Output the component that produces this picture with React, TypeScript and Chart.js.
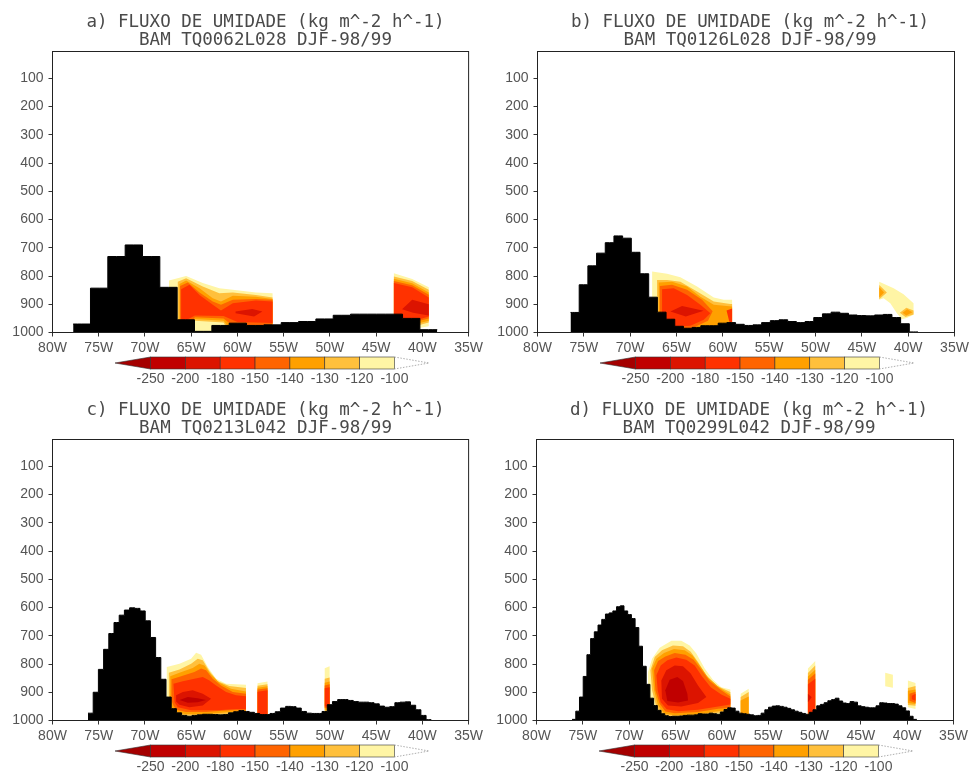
import React, { useEffect, useRef } from 'react';
import { Chart, registerables } from 'chart.js';

Chart.register(...registerables);

// ---------- axes / legend ----------
const X_TICKS = [-80, -75, -70, -65, -60, -55, -50, -45, -40, -35];
const Y_TICKS = [100, 200, 300, 400, 500, 600, 700, 800, 900, 1000];
const LEVELS = [-250, -200, -180, -150, -140, -130, -120, -100];
const BOX_COLORS = ['#c00000', '#dc1400', '#ff3200', '#ff6400', '#ffa000', '#ffc03c', '#fff5a5'];
const BELOW_COLOR = '#a50000';

const TITLE_1 = 'FLUXO DE UMIDADE (kg m^-2 h^-1)';
const EXPS = ['BAM TQ0062L028 DJF-98/99', 'BAM TQ0126L028 DJF-98/99', 'BAM TQ0213L042 DJF-98/99', 'BAM TQ0299L042 DJF-98/99'];

// ---------- terrain (surface pressure, hPa) ----------
const TERRAIN_A_LON0 = -76.83, TERRAIN_A_DLON = 1.875;
const TERRAIN_A = [970, 843, 731, 690, 731, 840, 955, 996, 975, 967, 975, 973, 965, 961, 952, 939, 935, 935, 935, 950, 990];

const TERRAIN_B_LON0 = -75.97, TERRAIN_B_DLON = 0.9375;
const TERRAIN_B = [929, 831, 764, 719, 682, 658, 666, 716, 792, 875, 928, 953, 978, 985, 982, 976, 976, 967, 965, 971,
  975, 973, 965, 958, 955, 961, 965, 961, 947, 934, 928, 932, 938, 940, 941, 938, 936, 947, 969, 998];

const TERRAIN_C_LON0 = -75.88, TERRAIN_C_DLON = 0.5625;
const TERRAIN_C = [974, 900, 819, 748, 692, 653, 627, 609, 601, 603, 612, 647, 706, 777, 854, 917, 958, 973, 982, 985,
  982, 980, 978, 978, 979, 980, 979, 973, 969, 965, 968, 971, 975, 979, 979, 975, 969, 956, 950, 951,
  956, 968, 974, 975, 975, 968, 944, 933, 926, 926, 929, 933, 935, 935, 937, 941, 949, 953, 951, 937,
  935, 934, 946, 962, 982, 997];

const TERRAIN_D_LON0 = -75.96, TERRAIN_D_DLON = 0.4;
const TERRAIN_D = [996, 967, 917, 844, 767, 710, 686, 662, 642, 623, 619, 612, 597, 594, 612, 625, 639, 671, 737, 808,
  872, 921, 947, 964, 976, 983, 986, 985, 985, 984, 982, 981, 981, 980, 976, 977, 977, 974, 976, 978,
  970, 961, 955, 956, 967, 974, 976, 978, 980, 983, 982, 974, 962, 953, 949, 948, 950, 953, 957, 962,
  967, 971, 975, 978, 971, 962, 948, 943, 937, 930, 926, 921, 931, 938, 940, 933, 935, 948, 951, 953,
  955, 955, 948, 937, 938, 940, 940, 942, 948, 955, 966, 985, 996];

// ---------- shaded contour regions [lon, hPa] ----------
// panel a
const A1_Y = [[-67.4, 816], [-65.55, 800], [-63.75, 825], [-61.96, 843], [-60.5, 849], [-58, 858], [-56.2, 861], [-56.2, 1000], [-67.4, 1000]];
const A1_LO = [[-66.45, 820], [-65.55, 808], [-63.75, 837], [-61.96, 861], [-60.5, 858], [-58, 867], [-56.2, 876], [-56.2, 1000], [-60.9, 1000], [-61.5, 965], [-64.6, 958], [-65.5, 1000], [-66.45, 1000]];
const A1_O = [[-66.27, 828], [-65.55, 816], [-64.1, 843], [-62.67, 879], [-61.78, 890], [-60.5, 870], [-58, 873], [-56.2, 881], [-56.2, 1000], [-60.5, 1000], [-61.5, 958], [-64.6, 952], [-65.5, 1000], [-66.27, 1000]];
const A1_DO = [[-66.2, 835], [-65.37, 823], [-64.1, 858], [-62.67, 890], [-61.78, 902], [-60.5, 884], [-58, 881], [-56.2, 884], [-56.2, 1000], [-60, 990], [-61.5, 950], [-64.6, 946], [-65.5, 1000], [-66.2, 1000]];
const A1_R = [[-66.09, 847], [-65.19, 831], [-64.1, 867], [-62.67, 902], [-61.78, 922], [-60.5, 896], [-58, 887], [-56.2, 890], [-56.2, 966], [-60, 963], [-61.5, 942], [-64.6, 940], [-65.5, 956], [-66.09, 958]];
const A1_DR = [[-60.2, 926], [-58.4, 917], [-57.3, 926], [-58.2, 943], [-60.2, 932]];
const A2_Y = [[-43.08, 790], [-41.1, 811], [-39.31, 840], [-39.31, 978], [-40.5, 985], [-43.08, 1000]];
const A2_LO = [[-43.08, 802], [-41.1, 818], [-39.31, 849], [-39.31, 965], [-40.5, 975], [-43.08, 1000]];
const A2_O = [[-43.08, 810], [-41.1, 826], [-39.31, 858], [-39.31, 958], [-40.5, 968], [-43.08, 1000]];
const A2_DO = [[-43.08, 818], [-41.1, 833], [-39.31, 866], [-39.31, 950], [-40.5, 960], [-43.08, 1000]];
const A2_R = [[-43.08, 825], [-41.1, 840], [-39.31, 876], [-39.31, 943], [-40.5, 955], [-43.08, 1000]];
const A2_DR = [[-42.2, 918], [-41.1, 884], [-39.31, 900], [-39.31, 940], [-41, 930]];

// panel b
const B1_Y = [[-67.63, 784], [-66.02, 792], [-64.58, 804], [-62.78, 837], [-60.98, 876], [-59.9, 884], [-59.0, 884], [-59.0, 1000], [-67.63, 1000]];
const B1_LO = [[-67.1, 814], [-66.02, 814], [-64.58, 820], [-62.78, 855], [-60.98, 890], [-59.2, 899], [-59.0, 899], [-59.0, 1000], [-67.1, 1000]];
const B1_O = [[-66.92, 823], [-65.48, 820], [-63.86, 837], [-62.42, 873], [-60.98, 902], [-59.0, 908], [-59.0, 1000], [-66.92, 1000]];
const B1_DO = [[-66.8, 835], [-65.48, 831], [-63.86, 849], [-62.24, 884], [-61.1, 925], [-61.6, 958], [-63.5, 988], [-65.5, 988], [-66.8, 975]];
const B1_R = [[-66.56, 847], [-65.3, 843], [-63.86, 867], [-62.42, 902], [-61.34, 932], [-62.06, 955], [-63.5, 976], [-64.94, 979], [-66.2, 973], [-66.56, 943]];
const B1_R2 = [[-59.6, 922], [-59.0, 915], [-59.0, 965], [-59.3, 962]];
const B1_DR = [[-65.66, 926], [-64.4, 906], [-62.07, 923], [-64.0, 943]];
const B2_Y = [[-43.12, 820], [-41.57, 843], [-40.5, 865], [-39.42, 896], [-39.42, 937], [-40.14, 949], [-40.68, 953], [-41.22, 932], [-41.93, 896], [-42.65, 879], [-43.12, 884]];
const B2_LO1 = [[-43.12, 832], [-42.3, 858], [-43.12, 882]];
const B2_O1 = [[-43.12, 840], [-42.6, 858], [-43.12, 876]];
const B2_LO2 = [[-40.9, 930], [-40.2, 912], [-39.42, 922], [-39.42, 936], [-40.3, 945]];
const B2_O2 = [[-40.6, 930], [-40.1, 918], [-39.55, 928], [-40.2, 940]];

// panel c
const C1_Y = [[-67.64, 811], [-66.27, 799], [-65.01, 781], [-64.47, 760], [-63.93, 767], [-63.21, 811], [-62.31, 852], [-61.23, 870], [-59.08, 873], [-59.08, 1000], [-67.64, 1000]];
const C1_LO = [[-67.42, 831], [-66.27, 819], [-65.01, 799], [-64.3, 781], [-63.75, 787], [-63.03, 826], [-62.13, 861], [-60.87, 878], [-59.08, 885], [-59.08, 976], [-60.87, 976], [-63.39, 982], [-65.55, 982], [-66.63, 976], [-67.17, 964], [-67.42, 940]];
const C1_O = [[-67.27, 843], [-66.27, 831], [-64.84, 814], [-64.12, 799], [-63.57, 805], [-62.85, 838], [-61.95, 866], [-60.69, 888], [-59.08, 897], [-59.08, 970], [-60.87, 970], [-63.39, 978], [-65.55, 978], [-66.63, 970], [-67.0, 959], [-67.27, 935]];
const C1_DO = [[-67.13, 854], [-66.09, 843], [-64.66, 828], [-63.93, 816], [-63.39, 822], [-62.67, 852], [-61.77, 876], [-60.51, 899], [-59.08, 905], [-59.08, 964], [-60.87, 964], [-63.39, 970], [-65.55, 970], [-66.63, 962], [-66.92, 947], [-67.13, 930]];
const C1_R = [[-66.92, 870], [-65.91, 861], [-64.66, 852], [-63.75, 846], [-63.03, 858], [-62.31, 876], [-61.23, 899], [-60.15, 911], [-59.08, 914], [-59.08, 959], [-60.15, 959], [-62.13, 964], [-65.0, 964], [-66.45, 953], [-66.8, 935]];
const C1_DR = [[-66.63, 911], [-65.91, 899], [-64.84, 893], [-63.75, 905], [-62.85, 923], [-63.75, 947], [-65.19, 953], [-66.27, 944], [-66.63, 933]];
const C1_DDR = [[-66.27, 927], [-65.37, 917], [-64.3, 921], [-63.39, 927], [-64.3, 935], [-65.37, 937]];
const C2_Y = [[-57.83, 868], [-56.75, 862], [-56.75, 1000], [-57.83, 1000]];
const C2_LO = [[-57.83, 877], [-56.75, 872], [-56.75, 992], [-57.83, 992]];
const C2_O = [[-57.83, 884], [-56.75, 879], [-56.75, 988], [-57.83, 988]];
const C2_DO = [[-57.83, 890], [-56.75, 886], [-56.75, 984], [-57.83, 984]];
const C2_R = [[-57.83, 898], [-56.75, 893], [-56.75, 980], [-57.83, 980]];
const C3_Y = [[-50.56, 815], [-50.03, 808], [-50.03, 1000], [-50.56, 1000]];
const C3_LO = [[-50.56, 852], [-50.03, 848], [-50.03, 968], [-50.56, 968]];
const C3_O = [[-50.56, 866], [-50.03, 862], [-50.03, 962], [-50.56, 962]];
const C3_DO = [[-50.56, 876], [-50.03, 872], [-50.03, 956], [-50.56, 956]];
const C3_R = [[-50.56, 886], [-50.03, 882], [-50.03, 950], [-50.56, 950]];

// panel d
const D1_Y = [[-67.96, 828], [-67.53, 781], [-66.71, 742], [-65.44, 718], [-64.37, 718], [-63.47, 734], [-62.75, 763], [-61.85, 816], [-60.96, 856], [-60.06, 882], [-59.08, 890], [-59.08, 1000], [-67.96, 1000]];
const D1_LO = [[-67.71, 822], [-67.24, 775], [-66.46, 751], [-65.27, 734], [-64.19, 737], [-63.36, 757], [-62.57, 793], [-61.67, 840], [-60.6, 876], [-59.08, 899], [-59.08, 970], [-60.4, 973], [-62.57, 986], [-65.09, 988], [-66.35, 982], [-67.06, 953], [-67.53, 893]];
const D1_O = [[-67.53, 816], [-67.06, 781], [-66.24, 761], [-65.16, 747], [-64.01, 751], [-63.18, 769], [-62.39, 805], [-61.49, 848], [-60.24, 884], [-59.08, 908], [-59.08, 964], [-60.4, 967], [-62.57, 979], [-65.09, 981], [-66.2, 976], [-66.88, 947], [-67.31, 893]];
const D1_DO = [[-67.31, 822], [-66.88, 789], [-66.09, 773], [-65.09, 761], [-63.93, 767], [-63.04, 785], [-62.21, 820], [-61.31, 860], [-60.06, 893], [-59.08, 915], [-59.08, 955], [-60.4, 958], [-62.57, 970], [-65.09, 974], [-66.09, 968], [-66.71, 941], [-67.17, 893]];
const D1_R = [[-67.06, 840], [-66.6, 805], [-65.88, 787], [-64.91, 777], [-63.84, 785], [-62.93, 805], [-62.13, 844], [-61.2, 882], [-60.06, 908], [-59.08, 923], [-59.08, 943], [-60.4, 950], [-62.57, 962], [-64.7, 967], [-65.95, 960], [-66.6, 935], [-66.92, 893]];
const D1_DR = [[-66.53, 858], [-65.99, 822], [-65.09, 805], [-64.19, 808], [-63.36, 834], [-62.57, 876], [-61.67, 917], [-62.57, 938], [-64.37, 950], [-65.81, 947], [-66.46, 923]];
const D1_DDR = [[-66.1, 893], [-65.63, 856], [-64.8, 846], [-64.19, 860], [-63.72, 905], [-63.65, 929], [-64.73, 936], [-65.88, 931]];
const D2_Y = [[-57.97, 905], [-57.1, 888], [-57.1, 1000], [-57.97, 1000]];
const D2_LO = [[-57.97, 917], [-57.1, 899], [-57.1, 1000], [-57.97, 1000]];
const D2_O = [[-57.97, 929], [-57.1, 915], [-57.1, 1000], [-57.97, 1000]];
const D3_Y = [[-50.71, 816], [-49.92, 789], [-49.92, 1000], [-50.71, 1000]];
const D3_LO = [[-50.71, 832], [-49.92, 805], [-49.92, 1000], [-50.71, 1000]];
const D3_O = [[-50.71, 844], [-49.92, 820], [-49.92, 990], [-50.71, 990]];
const D3_DO = [[-50.71, 856], [-49.92, 834], [-49.92, 980], [-50.71, 980]];
const D3_R = [[-50.71, 872], [-49.92, 852], [-49.92, 972], [-50.71, 972]];
const D3_DR = [[-50.71, 905], [-50.3, 918], [-50.71, 935]];
const D4_Y = [[-42.37, 831], [-41.54, 838], [-41.54, 884], [-42.37, 879]];
const D5_Y = [[-39.92, 858], [-39.1, 867], [-39.1, 959], [-39.92, 953]];
const D5_LO = [[-39.92, 885], [-39.1, 878], [-39.1, 948], [-39.92, 945]];
const D5_O = [[-39.92, 895], [-39.1, 890], [-39.1, 942], [-39.92, 938]];
const D5_DO = [[-39.75, 905], [-39.1, 898], [-39.1, 938], [-39.75, 930]];
const D5_R = [[-39.5, 912], [-39.1, 905], [-39.1, 930], [-39.5, 925]];

// ---------- layout ----------
const PANEL_W = 486, PANEL_H = 388;

const PANELS = [
  {
    key: 'a', left: 0, top: 0, L: 52.5, R: 470.5, T: 51.5, B: 332.5, exp: EXPS[0],
    lon0: TERRAIN_A_LON0, dlon: TERRAIN_A_DLON, terrain: TERRAIN_A,
    shapes: [[-100, A1_Y], [-120, A1_LO], [-130, A1_O], [-140, A1_DO], [-150, A1_R], [-180, A1_DR],
      [-100, A2_Y], [-120, A2_LO], [-130, A2_O], [-140, A2_DO], [-150, A2_R], [-180, A2_DR]],
  },
  {
    key: 'b', left: 486, top: 0, L: 51.5, R: 468.5, T: 51.5, B: 332.5, exp: EXPS[1],
    lon0: TERRAIN_B_LON0, dlon: TERRAIN_B_DLON, terrain: TERRAIN_B,
    shapes: [[-100, B1_Y], [-120, B1_LO], [-130, B1_O], [-140, B1_DO], [-150, B1_R], [-150, B1_R2], [-180, B1_DR],
      [-100, B2_Y], [-120, B2_LO1], [-130, B2_O1], [-120, B2_LO2], [-130, B2_O2]],
  },
  {
    key: 'c', left: 0, top: 388, L: 52.5, R: 470.5, T: 51.5, B: 332.5, exp: EXPS[2],
    lon0: TERRAIN_C_LON0, dlon: TERRAIN_C_DLON, terrain: TERRAIN_C,
    shapes: [[-100, C1_Y], [-120, C1_LO], [-130, C1_O], [-140, C1_DO], [-150, C1_R], [-180, C1_DR], [-200, C1_DDR],
      [-100, C2_Y], [-120, C2_LO], [-130, C2_O], [-140, C2_DO], [-150, C2_R],
      [-100, C3_Y], [-120, C3_LO], [-130, C3_O], [-140, C3_DO], [-150, C3_R]],
  },
  {
    key: 'd', left: 486, top: 388, L: 50.5, R: 467.5, T: 51.5, B: 332.5, exp: EXPS[3],
    lon0: TERRAIN_D_LON0, dlon: TERRAIN_D_DLON, terrain: TERRAIN_D,
    shapes: [[-100, D1_Y], [-120, D1_LO], [-130, D1_O], [-140, D1_DO], [-150, D1_R], [-180, D1_DR], [-200, D1_DDR],
      [-100, D2_Y], [-120, D2_LO], [-130, D2_O],
      [-100, D3_Y], [-120, D3_LO], [-130, D3_O], [-140, D3_DO], [-150, D3_R], [-180, D3_DR],
      [-100, D4_Y],
      [-100, D5_Y], [-120, D5_LO], [-130, D5_O], [-140, D5_DO], [-150, D5_R]],
  },
];

const TICK_FONT = { family: "'Liberation Sans', Arial, sans-serif", size: 14 };
const TEXT_COLOR = '#555555';

const framePlugin = {
  id: 'frame',
  afterDatasetsDraw(chart: any) {
    const { ctx, chartArea } = chart;
    ctx.save();
    ctx.strokeStyle = '#222222';
    ctx.lineWidth = 1;
    ctx.strokeRect(chartArea.left, chartArea.top, chartArea.right - chartArea.left, chartArea.bottom - chartArea.top);
    ctx.restore();
  },
};

function levelColor(lv: number) {
  return BOX_COLORS[LEVELS.indexOf(lv) - 1];
}

function buildConfig(p: any): any {
  const n = p.terrain.length;
  const half = p.dlon / 2;
  const terr: any[] = [];
  terr.push({ x: p.lon0 - half, y: p.terrain[0] });
  p.terrain.forEach((v: number, i: number) => terr.push({ x: p.lon0 + i * p.dlon, y: v }));
  terr.push({ x: p.lon0 + (n - 1) * p.dlon + half, y: p.terrain[n - 1] });

  const shapes = [...p.shapes].sort((a: any, b: any) => a[0] - b[0]);
  const datasets: any[] = [
    {
      label: 'terreno', data: terr, stepped: 'middle', fill: { value: 1000 },
      backgroundColor: '#000000', borderColor: '#000000', borderWidth: 1, pointRadius: 0,
    },
    ...shapes.map((s: any) => ({
      label: String(s[0]),
      data: s[1].map((pt: number[]) => ({ x: pt[0], y: pt[1] })),
      fill: 'shape', backgroundColor: levelColor(s[0]), borderColor: 'rgba(0,0,0,0)', borderWidth: 0,
      pointRadius: 0, tension: 0,
    })),
  ];

  return {
    type: 'line',
    data: { datasets },
    plugins: [framePlugin],
    options: {
      responsive: false, animation: false, events: [],
      layout: { padding: { left: 0, right: PANEL_W - p.R, top: p.T, bottom: 0 } },
      plugins: { legend: { display: false }, tooltip: { enabled: false }, title: { display: false } },
      scales: {
        x: {
          type: 'linear', min: -80, max: -35,
          afterBuildTicks: (s: any) => { s.ticks = X_TICKS.map((v) => ({ value: v })); },
          afterFit: (s: any) => { s.height = PANEL_H - p.B; },
          grid: { display: true, drawOnChartArea: false, drawTicks: true, tickLength: 4, color: '#333333', lineWidth: 1 },
          border: { display: false },
          ticks: {
            autoSkip: false, maxRotation: 0, minRotation: 0, padding: 3, color: TEXT_COLOR, font: TICK_FONT,
            callback: (v: number) => `${Math.abs(v)}W`,
          },
        },
        y: {
          type: 'linear', reverse: true, min: 5, max: 1000,
          afterBuildTicks: (s: any) => { s.ticks = Y_TICKS.map((v) => ({ value: v })); },
          afterFit: (s: any) => { s.width = p.L; },
          grid: { display: true, drawOnChartArea: false, drawTicks: true, tickLength: 4, color: '#333333', lineWidth: 1 },
          border: { display: false },
          ticks: { autoSkip: false, padding: 5, color: TEXT_COLOR, font: TICK_FONT, callback: (v: number) => String(v) },
        },
      },
    },
  };
}

function ColorBar({ L, B }: { L: number; B: number }) {
  const w = 34.85;
  const x0 = L + 98;
  const x1 = x0 + BOX_COLORS.length * w;
  const y0 = B + 24.5;
  const h = 12;
  const tipL = L + 62.5;
  const tipR = L + 376.5;
  return (
    <svg width={PANEL_W} height={PANEL_H} style={{ position: 'absolute', left: 0, top: 0, pointerEvents: 'none' }}>
      <polygon points={`${tipL},${y0 + h / 2} ${x0},${y0} ${x0},${y0 + h}`} fill={BELOW_COLOR} stroke="#333" strokeWidth={0.6} />
      {BOX_COLORS.map((c, i) => (
        <rect key={i} x={x0 + i * w} y={y0} width={w} height={h} fill={c} stroke="#333" strokeWidth={0.6} />
      ))}
      <polyline points={`${x1},${y0} ${tipR},${y0 + h / 2} ${x1},${y0 + h}`} fill="none" stroke="#999" strokeWidth={0.8} strokeDasharray="1.5 1.5" />
      {LEVELS.map((v, i) => (
        <text key={v} x={x0 + i * w} y={B + 50} textAnchor="middle" fontFamily="'Liberation Sans', Arial, sans-serif" fontSize={14} fill={TEXT_COLOR}>{String(v)}</text>
      ))}
    </svg>
  );
}

function Panel({ p }: { p: any }) {
  const ref = useRef<HTMLCanvasElement>(null);
  useEffect(() => {
    const chart = new Chart(ref.current as HTMLCanvasElement, buildConfig(p));
    return () => chart.destroy();
  }, [p]);
  const cx = (p.L + p.R) / 2 + 4;
  return (
    <div style={{ position: 'absolute', left: p.left, top: p.top, width: PANEL_W, height: PANEL_H }}>
      <canvas ref={ref} width={PANEL_W} height={PANEL_H} style={{ position: 'absolute', left: 0, top: 0, width: PANEL_W, height: PANEL_H }} />
      <ColorBar L={p.L} B={p.B} />
      <div style={{
        position: 'absolute', left: cx - 250, top: 11.5, width: 500, textAlign: 'center',
        fontFamily: "'DejaVu Sans Mono', monospace", fontSize: 17.5, lineHeight: '18.5px', color: '#4a4a4a', whiteSpace: 'pre',
      }}>
        <div>{`${p.key}) ${TITLE_1}`}</div>
        <div>{p.exp}</div>
      </div>
    </div>
  );
}

export default function App() {
  return (
    <div style={{ position: 'fixed', left: 0, top: 0, width: 972, height: 776, background: '#ffffff', overflow: 'hidden' }}>
      {PANELS.map((p) => <Panel key={p.key} p={p} />)}
    </div>
  );
}
